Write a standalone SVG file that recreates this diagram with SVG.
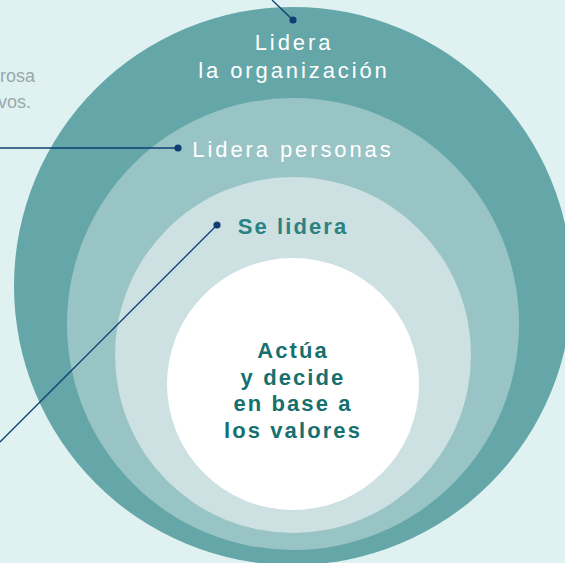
<svg xmlns="http://www.w3.org/2000/svg" width="565" height="563" viewBox="0 0 565 563">
<style>
.w{fill:#ffffff;font-family:"Liberation Sans",Arial,sans-serif;font-size:22px;letter-spacing:2.9px;text-anchor:middle}
.t{fill:#16706e;font-family:"Liberation Sans",Arial,sans-serif;font-size:22px;font-weight:bold;letter-spacing:2.1px;text-anchor:middle}
.g{fill:#98a7ab;font-family:"Liberation Sans",Arial,sans-serif;font-size:18px;text-anchor:end}
.ln{stroke:#0e3f72;stroke-width:1.3;fill:none}
.dot{fill:#0e3f72}
</style>
<rect width="565" height="563" fill="#dff2f1"/>
<text class="g" x="35" y="82">rosa</text>
<text class="g" x="31" y="108">vos.</text>
<g id="organizacion">
<circle cx="293" cy="286" r="279" fill="#65a7a8"/>
<text class="w" x="294" y="50">Lidera</text>
<text class="w" x="294" y="78">la organización</text>
</g>
<g id="personas">
<circle cx="293" cy="324" r="226" fill="#99c4c5"/>
<text class="w" x="293" y="157">Lidera personas</text>
</g>
<g id="selidera">
<circle cx="293" cy="355" r="178" fill="#cde1e3"/>
<text class="t" x="293" y="234" style="fill:#2b8281">Se lidera</text>
</g>
<g id="valores">
<circle cx="293" cy="384" r="126" fill="#ffffff"/>
<text class="t" x="293" y="358">Actúa</text>
<text class="t" x="293" y="385">y decide</text>
<text class="t" x="293" y="411">en base a</text>
<text class="t" x="293" y="438">los valores</text>
</g>
<g id="connectors">
<line class="ln" x1="272" y1="0" x2="293" y2="20"/>
<circle class="dot" cx="293" cy="20" r="3.6"/>
<line class="ln" x1="0" y1="148" x2="178" y2="148"/>
<circle class="dot" cx="178" cy="148" r="3.6"/>
<line class="ln" x1="0" y1="442" x2="217" y2="225"/>
<circle class="dot" cx="217" cy="225" r="3.6"/>
</g>
</svg>
